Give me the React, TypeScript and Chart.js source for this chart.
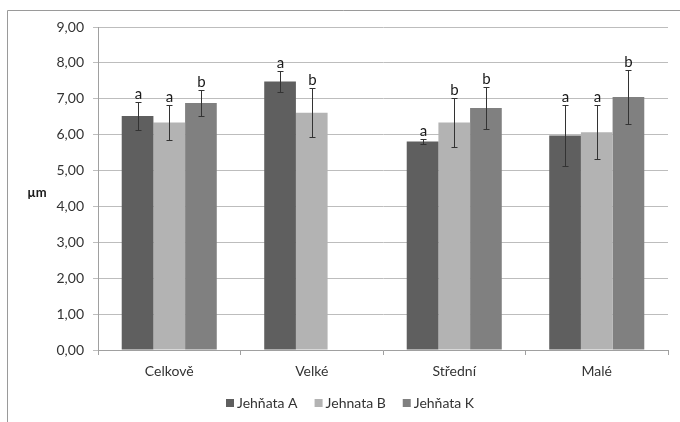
import React, { useEffect, useRef } from 'react';
import { Chart, registerables } from 'chart.js';

Chart.register(...registerables);

const categories = ['Celkově', 'Velké', 'Střední', 'Malé'];
const seriesNames = ['Jehňata A', 'Jehnata B', 'Jehňata K'];
const valuesA = [6.52, 7.48, 5.81, 5.98];
const valuesB = [6.34, 6.61, 6.34, 6.07];
const valuesK: (number | null)[] = [6.88, null, 6.74, 7.05];
const errA = [0.38, 0.3, 0.06, 0.86];
const errB = [0.49, 0.68, 0.69, 0.76];
const errK: (number | null)[] = [0.37, null, 0.59, 0.76];
const lettersA = ['a', 'a', 'a', 'a'];
const lettersB = ['a', 'b', 'b', 'a'];
const lettersK = ['b', '', 'b', 'b'];
const yMin = 0;
const yMax = 9;
const yStep = 1;
const yTitle = 'µm';

const colors = ['#5f5f5f', '#b3b3b3', '#808080'];
const FONT = 'Lato';

const errors = [errA, errB, errK];
const letters = [lettersA, lettersB, lettersK];

const extrasPlugin = {
  id: 'extras',
  beforeDraw(chart: any) {
    const ctx = chart.ctx;
    ctx.save();
    ctx.strokeStyle = '#9a9a9a';
    ctx.lineWidth = 1;
    ctx.beginPath();
    ctx.moveTo(7.5, 422);
    ctx.lineTo(7.5, 10.5);
    ctx.lineTo(680, 10.5);
    ctx.stroke();
    ctx.restore();
  },
  afterDatasetsDraw(chart: any) {
    const ctx = chart.ctx;
    const y = chart.scales.y;
    ctx.save();
    chart.data.datasets.forEach((ds: any, di: number) => {
      const meta = chart.getDatasetMeta(di);
      meta.data.forEach((el: any, i: number) => {
        const v = ds.data[i];
        const e = errors[di][i];
        if (v == null || e == null) return;
        const x = Math.round(el.x) + 0.5;
        const yt = Math.round(y.getPixelForValue(v + e)) + 0.5;
        const yb = Math.round(y.getPixelForValue(v - e)) + 0.5;
        ctx.strokeStyle = '#333333';
        ctx.lineWidth = 1;
        ctx.beginPath();
        ctx.moveTo(x, yt);
        ctx.lineTo(x, yb);
        ctx.moveTo(x - 3, yt);
        ctx.lineTo(x + 3, yt);
        ctx.moveTo(x - 3, yb);
        ctx.lineTo(x + 3, yb);
        ctx.stroke();
        const letter = letters[di][i];
        if (letter) {
          ctx.fillStyle = '#1a1a1a';
          ctx.font = `15px ${FONT}`;
          ctx.textAlign = 'center';
          ctx.textBaseline = 'alphabetic';
          ctx.fillText(letter, x, yt - 4);
        }
      });
    });
    ctx.fillStyle = '#1a1a1a';
    ctx.font = `bold 13px ${FONT}`;
    ctx.textAlign = 'center';
    ctx.textBaseline = 'middle';
    ctx.fillText(yTitle, 37, 193);

    // legend
    ctx.font = `14px ${FONT}`;
    const box = 8;
    const gapBoxText = 3;
    const gapItems = 17;
    const widths = seriesNames.map((n) => ctx.measureText(n).width);
    const total = widths.reduce((a, w) => a + box + gapBoxText + w, 0) + gapItems * (seriesNames.length - 1);
    let lx = Math.round(350 - total / 2);
    const ly = 403;
    seriesNames.forEach((n, i) => {
      ctx.fillStyle = colors[i];
      ctx.fillRect(lx, ly - box / 2, box, box);
      lx += box + gapBoxText;
      ctx.fillStyle = '#333333';
      ctx.textAlign = 'left';
      ctx.textBaseline = 'middle';
      ctx.fillText(n, lx, ly);
      lx += widths[i] + gapItems;
    });
    ctx.restore();
  },
};

export default function App() {
  const ref = useRef<HTMLCanvasElement | null>(null);
  useEffect(() => {
    if (!ref.current) return;
    const chart = new Chart(ref.current, {
      type: 'bar',
      data: {
        labels: categories,
        datasets: [valuesA, valuesB, valuesK].map((d, i) => ({
          label: seriesNames[i],
          data: d,
          backgroundColor: colors[i],
          borderWidth: 0,
          categoryPercentage: 0.667,
          barPercentage: 1,
        })),
      },
      options: {
        responsive: false,
        animation: false,
        layout: { padding: { left: 0, top: 27, right: 12, bottom: 38 } },
        plugins: {
          legend: { display: false },
          tooltip: { enabled: false },
        },
        scales: {
          x: {
            afterFit: (s: any) => { s.height = 34; },
            grid: { drawOnChartArea: false, drawTicks: true, tickLength: 5, color: '#a0a0a0', offset: true },
            border: { color: '#a0a0a0' },
            ticks: { color: '#333333', padding: 8, font: { family: FONT, size: 14 } },
          },
          y: {
            min: yMin,
            max: yMax,
            afterFit: (s: any) => { s.width = 98; },
            grid: { color: '#bdbdbd', tickLength: 5 },
            border: { color: '#a0a0a0' },
            ticks: {
              stepSize: yStep,
              color: '#333333',
              padding: 9,
              font: { family: FONT, size: 14 },
              callback: (v: any) => Number(v).toFixed(2).replace('.', ','),
            },
          },
        },
      },
      plugins: [extrasPlugin],
    });
    return () => chart.destroy();
  }, []);
  return (
    <div style={{ position: 'fixed', left: 0, top: 0, width: 680, height: 422, background: '#fff' }}>
      <canvas ref={ref} width={680} height={422} />
    </div>
  );
}
